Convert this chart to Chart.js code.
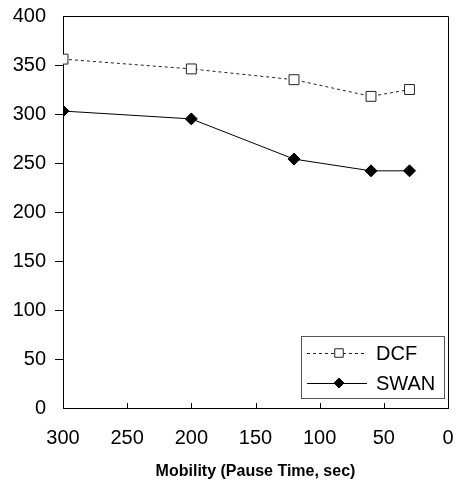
<!DOCTYPE html>
<html>
<head>
<meta charset="utf-8">
<script src="https://cdn.jsdelivr.net/npm/chart.js@4/dist/chart.umd.min.js"></script>
<style>
  html, body { margin: 0; padding: 0; background: #fff; }
  #wrap { width: 456px; height: 482px; position: relative; }
</style>
</head>
<body>
<div id="wrap"><canvas id="chart" width="456" height="482"></canvas></div>
<script>
// pause time (sec) at each measured point
const pauseTimes = [300, 200, 120, 60, 30];
const dcfValues = [356, 346, 335, 318, 325];
const swanValues = [303, 295, 254, 242, 242];
const seriesNames = ['DCF', 'SWAN'];
const xTitle = 'Mobility (Pause Time, sec)';

const toPoints = (vals) => pauseTimes.map((x, i) => ({ x: x, y: vals[i] }));
const FONT = '"Liberation Sans", Arial, sans-serif';

// frame on top/right + tick marks on x axis pointing inward
const framePlugin = {
  id: 'frame',
  afterDraw(chart) {
    const { ctx, chartArea: a, scales } = chart;
    ctx.save();
    ctx.strokeStyle = '#000';
    ctx.lineWidth = 1;
    ctx.beginPath();
    ctx.moveTo(a.left, a.top + 0.5);
    ctx.lineTo(a.right + 0.5, a.top + 0.5);
    ctx.lineTo(a.right + 0.5, a.bottom);
    ctx.stroke();
    scales.x.ticks.forEach((t) => {
      if (t.value === 0 || t.value === 300) return;
      const px = Math.round(scales.x.getPixelForValue(t.value)) + 0.5;
      ctx.beginPath();
      ctx.moveTo(px, a.bottom);
      ctx.lineTo(px, a.bottom - 5);
      ctx.stroke();
    });
    ctx.restore();
  }
};

// boxed legend inside the plot, lower right
const boxLegend = {
  id: 'boxLegend',
  afterDraw(chart) {
    const { ctx, chartArea: a } = chart;
    const w = 143, h = 62;
    const x0 = a.right - 4 - w, y0 = a.bottom - 10 - h;
    ctx.save();
    ctx.fillStyle = '#fff';
    ctx.fillRect(x0, y0, w, h);
    ctx.strokeStyle = '#555';
    ctx.lineWidth = 1;
    ctx.strokeRect(x0 + 0.5, y0 + 0.5, w, h);
    chart.data.datasets.forEach((ds, i) => {
      const cy = y0 + 17 + i * 30;
      ctx.strokeStyle = ds.borderColor;
      ctx.lineWidth = 1;
      ctx.setLineDash(ds.borderDash || []);
      ctx.beginPath();
      ctx.moveTo(x0 + 6, cy + 0.5);
      ctx.lineTo(x0 + 66, cy + 0.5);
      ctx.stroke();
      ctx.setLineDash([]);
      ctx.fillStyle = ds.pointBackgroundColor;
      ctx.strokeStyle = ds.pointBorderColor;
      Chart.helpers.drawPoint(ctx, {
        pointStyle: ds.pointStyle,
        radius: ds.pointRadius - 1,
        borderWidth: 1
      }, x0 + 38, cy);
      ctx.fillStyle = '#000';
      ctx.font = '20px ' + FONT;
      ctx.textBaseline = 'middle';
      ctx.fillText(ds.label, x0 + 75, cy + 1);
    });
    ctx.restore();
  }
};

const ctx = document.getElementById('chart').getContext('2d');
new Chart(ctx, {
  type: 'line',
  data: {
    datasets: [
      {
        label: seriesNames[0],
        data: toPoints(dcfValues),
        borderColor: '#222',
        borderWidth: 1,
        borderDash: [3, 3],
        pointStyle: 'rect',
        pointRadius: 7,
        pointBackgroundColor: '#fff',
        pointBorderColor: '#222',
        pointBorderWidth: 1,
        tension: 0
      },
      {
        label: seriesNames[1],
        data: toPoints(swanValues),
        borderColor: '#000',
        borderWidth: 1,
        pointStyle: 'rectRot',
        pointRadius: 6,
        pointBackgroundColor: '#000',
        pointBorderColor: '#000',
        pointBorderWidth: 1,
        tension: 0
      }
    ]
  },
  options: {
    responsive: false,
    animation: false,
    events: [],
    layout: { padding: { top: 16, right: 7, bottom: 0, left: 0 } },
    plugins: { legend: { display: false }, tooltip: { enabled: false } },
    scales: {
      x: {
        type: 'linear',
        reverse: true,
        min: 0,
        max: 300,
        ticks: {
          stepSize: 50,
          color: '#000',
          padding: 18,
          font: { family: FONT, size: 20 },
          maxRotation: 0
        },
        grid: { drawOnChartArea: false, drawTicks: false },
        border: { display: true, color: '#000', width: 1 },
        title: {
          display: true,
          text: xTitle,
          color: '#000',
          font: { family: FONT, size: 16, weight: 'bold' },
          padding: { top: 0, bottom: 1 }
        },
        afterFit(scale) {
          scale.height = 74;
          scale.paddingLeft = 0;
          scale.paddingRight = 0;
        }
      },
      y: {
        min: 0,
        max: 400,
        ticks: {
          stepSize: 50,
          color: '#000',
          padding: 9,
          font: { family: FONT, size: 20 }
        },
        grid: {
          drawOnChartArea: false,
          drawTicks: true,
          tickLength: 8,
          color: (c) => (c.tick && (c.tick.value === 400 || c.tick.value === 0) ? 'rgba(0,0,0,0)' : '#000')
        },
        border: { display: true, color: '#000', width: 1 },
        afterFit(scale) {
          scale.width = 63;
          scale.paddingTop = 0;
        }
      }
    }
  },
  plugins: [framePlugin, boxLegend]
});
</script>
</body>
</html>
